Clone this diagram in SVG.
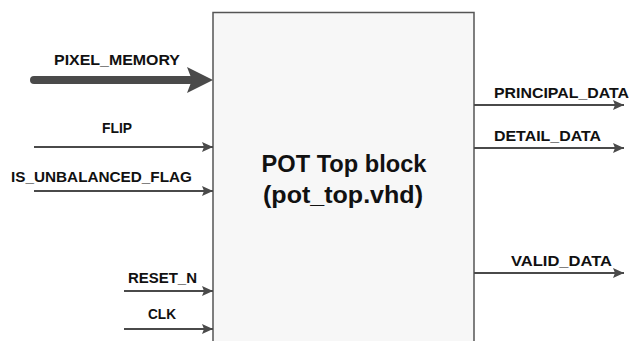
<svg xmlns="http://www.w3.org/2000/svg" width="630" height="341" viewBox="0 0 630 341">
<style>
.lbl{font-family:"Liberation Sans",Arial,sans-serif;font-weight:bold;font-size:15px;fill:#111}
.title{font-family:"Liberation Sans",Arial,sans-serif;font-weight:bold;font-size:24.5px;fill:#111}
.wire{stroke:#4a4a4a;stroke-width:2;fill:none;marker-end:url(#ah)}
</style>
<defs>
<marker id="ah" markerUnits="userSpaceOnUse" markerWidth="12" markerHeight="12" refX="11" refY="6" orient="auto">
<path d="M0,1 L11,6 L0,11 L2,6 Z" fill="#4a4a4a"/>
</marker>
</defs>
<rect width="630" height="341" fill="#fff"/>
<g id="pot_top">
<rect x="213" y="12.5" width="261" height="340" fill="#f7f7f7" stroke="#555" stroke-width="1.5"/>
<text class="title" x="344" y="172" text-anchor="middle" textLength="165" lengthAdjust="spacingAndGlyphs">POT Top block</text>
<text class="title" x="343" y="203" text-anchor="middle" textLength="160" lengthAdjust="spacingAndGlyphs">(pot_top.vhd)</text>
</g>
<g id="connectors">
<g id="pixel_memory">
<line x1="34" y1="80" x2="190" y2="80" stroke="#4a4a4a" stroke-width="8" stroke-linecap="round"/>
<path d="M187,67 L213,80 L187,93 L192,80 Z" fill="#4a4a4a"/>
<text class="lbl" x="117" y="65" text-anchor="middle" textLength="126" lengthAdjust="spacingAndGlyphs">PIXEL_MEMORY</text>
</g>
<g id="flip">
<line class="wire" x1="34" y1="147" x2="213" y2="147"/>
<text class="lbl" x="117" y="133" text-anchor="middle" textLength="30" lengthAdjust="spacingAndGlyphs">FLIP</text>
</g>
<g id="is_unbalanced_flag">
<line class="wire" x1="34" y1="191" x2="213" y2="191"/>
<text class="lbl" x="11" y="182" textLength="181" lengthAdjust="spacingAndGlyphs">IS_UNBALANCED_FLAG</text>
</g>
<g id="reset_n">
<line class="wire" x1="124" y1="291" x2="213" y2="291"/>
<text class="lbl" x="128" y="283" textLength="69" lengthAdjust="spacingAndGlyphs">RESET_N</text>
</g>
<g id="clk">
<line class="wire" x1="124" y1="329" x2="213" y2="329"/>
<text class="lbl" x="148" y="319" textLength="28" lengthAdjust="spacingAndGlyphs">CLK</text>
</g>
<g id="principal_data">
<line class="wire" x1="474" y1="105" x2="624" y2="105"/>
<text class="lbl" x="494" y="98" textLength="135" lengthAdjust="spacingAndGlyphs">PRINCIPAL_DATA</text>
</g>
<g id="detail_data">
<line class="wire" x1="474" y1="148" x2="624" y2="148"/>
<text class="lbl" x="494" y="141" textLength="107" lengthAdjust="spacingAndGlyphs">DETAIL_DATA</text>
</g>
<g id="valid_data">
<line class="wire" x1="474" y1="273" x2="624" y2="273"/>
<text class="lbl" x="511" y="266" textLength="101" lengthAdjust="spacingAndGlyphs">VALID_DATA</text>
</g>
</g>
</svg>
